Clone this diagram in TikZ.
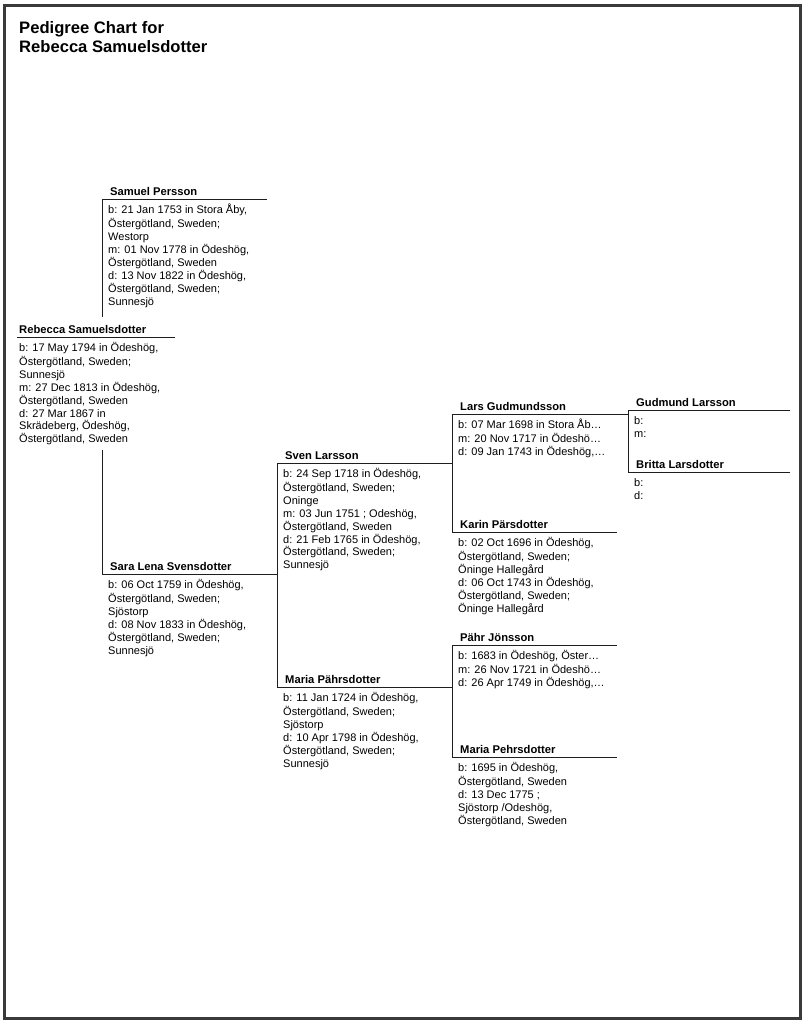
\documentclass[tikz,border=0pt]{standalone}
\usepackage{fontspec}
\setmainfont{Liberation Sans}
\usepackage{xcolor}
\definecolor{ink}{HTML}{1E1E1E}
\definecolor{edge}{HTML}{3A3A3A}

\begin{document}
\begin{tikzpicture}[x=1pt,y=-1pt,
  who/.style={font=\fontsize{11.2}{13}\selectfont\bfseries,inner sep=0pt,anchor=base west},
  info/.style={font=\fontsize{11}{12.9}\selectfont,inner sep=0pt,align=left,anchor=north west},
  rule/.style={draw=ink,line width=0.8pt}]
  \useasboundingbox (0,0) rectangle (804,1023);
  \draw[edge,line width=3pt] (4,5) rectangle (800,1018);
  \node[inner sep=0pt,align=left,anchor=north west,font=\fontsize{16.6}{19}\selectfont\bfseries] (title) at (19,20) {\strut Pedigree Chart for\\Rebecca Samuelsdotter};
  % root person
  \coordinate (rebecca) at (17,337);
  \coordinate (rebecca-e) at (175,337);
  \draw[rule] (rebecca) -- (rebecca-e);
  \node[who] (rebecca-name) at ([xshift=2pt,yshift=4pt]rebecca) {Rebecca Samuelsdotter};
  \node[info] (rebecca-info) at ([xshift=2pt,yshift=-5pt]rebecca) {\strut b: 17 May 1794 in Ödeshög,\\Östergötland, Sweden;\\Sunnesjö\\m: 27 Dec 1813 in Ödeshög,\\Östergötland, Sweden\\d: 27 Mar 1867 in\\Skrädeberg, Ödeshög,\\Östergötland, Sweden};
  % ancestors: name/x/y/end of rule/label/facts
  \foreach \n/\x/\y/\e/\nm/\txt in {
    samuel/102/199/267/Samuel Persson/{b: 21 Jan 1753 in Stora Åby,\\Östergötland, Sweden;\\Westorp\\m: 01 Nov 1778 in Ödeshög,\\Östergötland, Sweden\\d: 13 Nov 1822 in Ödeshög,\\Östergötland, Sweden;\\Sunnesjö},
    sara/102/574/277/Sara Lena Svensdotter/{b: 06 Oct 1759 in Ödeshög,\\Östergötland, Sweden;\\Sjöstorp\\d: 08 Nov 1833 in Ödeshög,\\Östergötland, Sweden;\\Sunnesjö},
    sven/277/463/452/Sven Larsson/{b: 24 Sep 1718 in Ödeshög,\\Östergötland, Sweden;\\Oninge\\m: 03 Jun 1751 ; Odeshög,\\Östergötland, Sweden\\d: 21 Feb 1765 in Ödeshög,\\Östergötland, Sweden;\\Sunnesjö},
    mariap/277/687/452/Maria Pährsdotter/{b: 11 Jan 1724 in Ödeshög,\\Östergötland, Sweden;\\Sjöstorp\\d: 10 Apr 1798 in Ödeshög,\\Östergötland, Sweden;\\Sunnesjö},
    lars/452/414/628/Lars Gudmundsson/{b: 07 Mar 1698 in Stora Åb…\\m: 20 Nov 1717 in Ödeshö…\\d: 09 Jan 1743 in Ödeshög,…},
    karin/452/532/617/Karin Pärsdotter/{b: 02 Oct 1696 in Ödeshög,\\Östergötland, Sweden;\\Öninge Hallegård\\d: 06 Oct 1743 in Ödeshög,\\Östergötland, Sweden;\\Öninge Hallegård},
    pahr/452/645/617/Pähr Jönsson/{b: 1683 in Ödeshög, Öster…\\m: 26 Nov 1721 in Ödeshö…\\d: 26 Apr 1749 in Ödeshög,…},
    mariape/452/757/617/Maria Pehrsdotter/{b: 1695 in Ödeshög,\\Östergötland, Sweden\\d: 13 Dec 1775 ;\\Sjöstorp /Odeshög,\\Östergötland, Sweden},
    gudmund/628/410/790/Gudmund Larsson/{b:\\m:},
    britta/628/472/790/Britta Larsdotter/{b:\\d:}}{
    \coordinate (\n) at (\x,\y);
    \coordinate (\n-e) at (\e,\y);
    \draw[rule] (\n) -- (\n-e);
    \node[who] (\n-name) at ([xshift=8pt,yshift=4pt]\n) {\nm};
    \node[info] (\n-info) at ([xshift=6pt,yshift=-5pt]\n) {\strut\txt};
  }
  % links between parents
  \draw[rule] (samuel) -- ++(0,118);
  \draw[rule] (sara) -- ++(0,-124);
  \draw[rule] (sven) -- (mariap);
  \draw[rule] (lars) -- (karin);
  \draw[rule] (pahr) -- (mariape);
  \draw[rule] (gudmund) -- (britta);
\end{tikzpicture}
\end{document}
